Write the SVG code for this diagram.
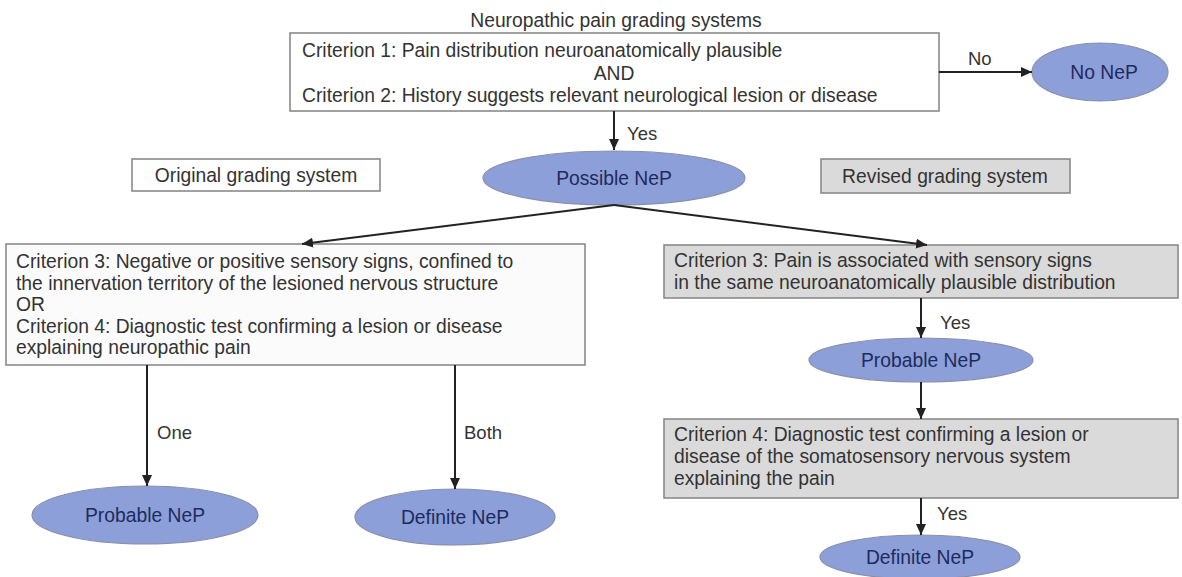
<svg xmlns="http://www.w3.org/2000/svg" width="1182" height="577" viewBox="0 0 1182 577">
<style>
  text { font-family: "Liberation Sans", Arial, sans-serif; font-size: 19.3px; fill: #333333; }
  .box { fill: #ffffff; stroke: #8a8a8a; stroke-width: 1.6; }
  .grey { fill: #dadada; stroke: #8a8a8a; stroke-width: 1.6; }
  .ell { fill: #8d9fd8; stroke: #8a8fa8; stroke-width: 1.2; }
  .et { fill: #1d2b5e; text-anchor: middle; }
  .lbl { font-size: 18.5px; fill: #333333; }
  .mid { text-anchor: middle; }
  .conn { stroke: #222222; stroke-width: 2; fill: none; marker-end: url(#arr); }
</style>
<defs>
  <marker id="arr" markerUnits="userSpaceOnUse" markerWidth="12" markerHeight="10" refX="11" refY="5" orient="auto">
    <path d="M0,0 L11,5 L0,10 Z" fill="#222222"/>
  </marker>
</defs>
<rect width="1182" height="577" fill="#ffffff"/>

<text x="616" y="27" class="mid">Neuropathic pain grading systems</text>

<g id="top-box">
  <rect class="box" x="290" y="33" width="649" height="78"/>
  <text x="302" y="57">Criterion 1: Pain distribution neuroanatomically plausible</text>
  <text x="614" y="80" class="mid">AND</text>
  <text x="302" y="102">Criterion 2: History suggests relevant neurological lesion or disease</text>
</g>

<g id="no-nep">
  <ellipse class="ell" cx="1100" cy="72" rx="68" ry="29"/>
  <text x="1104" y="79" class="et">No NeP</text>
</g>

<g id="possible-nep">
  <ellipse class="ell" cx="614" cy="178" rx="131" ry="27"/>
  <text x="614" y="185" class="et">Possible NeP</text>
</g>

<g id="original-label">
  <rect class="box" x="132" y="159" width="248" height="32"/>
  <text x="256" y="182" class="mid">Original grading system</text>
</g>

<g id="revised-label">
  <rect class="grey" x="821" y="159" width="249" height="34"/>
  <text x="945" y="183" class="mid">Revised grading system</text>
</g>

<g id="left-criteria">
  <rect class="box" x="6" y="244" width="579" height="121" style="fill:#fbfbfb"/>
  <text x="16" y="268">Criterion 3: Negative or positive sensory signs, confined to</text>
  <text x="16" y="290">the innervation territory of the lesioned nervous structure</text>
  <text x="16" y="311">OR</text>
  <text x="16" y="333">Criterion 4: Diagnostic test confirming a lesion or disease</text>
  <text x="16" y="354">explaining neuropathic pain</text>
</g>

<g id="left-probable">
  <ellipse class="ell" cx="145" cy="515" rx="113" ry="29"/>
  <text x="145" y="522" class="et">Probable NeP</text>
</g>

<g id="left-definite">
  <ellipse class="ell" cx="455" cy="517" rx="100" ry="28"/>
  <text x="455" y="524" class="et">Definite NeP</text>
</g>

<g id="right-criterion3">
  <rect class="grey" x="664" y="245" width="514" height="53"/>
  <text x="674" y="267">Criterion 3: Pain is associated with sensory signs</text>
  <text x="674" y="289">in the same neuroanatomically plausible distribution</text>
</g>

<g id="right-probable">
  <ellipse class="ell" cx="921" cy="360" rx="112" ry="22"/>
  <text x="921" y="367" class="et">Probable NeP</text>
</g>

<g id="right-criterion4">
  <rect class="grey" x="664" y="419" width="514" height="79"/>
  <text x="674" y="441">Criterion 4: Diagnostic test confirming a lesion or</text>
  <text x="674" y="463">disease of the somatosensory nervous system</text>
  <text x="674" y="485">explaining the pain</text>
</g>

<g id="right-definite">
  <ellipse class="ell" cx="920" cy="557" rx="100" ry="22"/>
  <text x="920" y="564" class="et">Definite NeP</text>
</g>

<g id="connectors">
  <path class="conn" d="M614,111 L614,150"/>
  <path class="conn" d="M939,72 L1032,72"/>
  <path class="conn" d="M614,205 L302,244"/>
  <path class="conn" d="M614,205 L927,245"/>
  <path class="conn" d="M147,365 L147,486"/>
  <path class="conn" d="M455,365 L455,489"/>
  <path class="conn" d="M921,298 L921,338"/>
  <path class="conn" d="M921,382 L921,419"/>
  <path class="conn" d="M921,498 L921,535"/>
  <text x="627" y="140" class="lbl">Yes</text>
  <text x="968" y="65" class="lbl">No</text>
  <text x="940" y="329" class="lbl">Yes</text>
  <text x="937" y="520" class="lbl">Yes</text>
  <text x="157" y="439" class="lbl">One</text>
  <text x="464" y="439" class="lbl">Both</text>
</g>
</svg>
